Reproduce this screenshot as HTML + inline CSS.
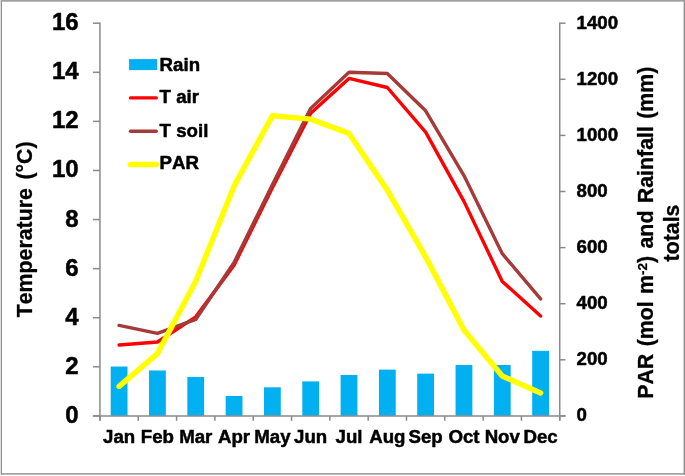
<!DOCTYPE html>
<html><head><meta charset="utf-8"><title>Chart</title>
<style>html,body{margin:0;padding:0;background:#fff}svg{display:block}text{font-family:"Liberation Sans",Arial,sans-serif;font-weight:bold;fill:#000;stroke:#000;stroke-width:0.5px;stroke-linejoin:round;font-kerning:none}text.t{stroke-width:0.3px}</style></head><body>
<svg width="685" height="476" viewBox="0 0 685 476">
<rect x="0" y="0" width="685" height="476" fill="#fff"/>
<rect x="0" y="1.4" width="1" height="473.2" fill="#dcdcdc"/><g fill="#8e8e8e"><rect x="1" y="0.6" width="1" height="474"/><rect x="683.6" y="0.6" width="1.4" height="474"/><rect x="1" y="473.2" width="684" height="1.4"/></g><rect x="0.6" y="0" width="684.4" height="1.7" fill="#a0a0a0"/>
<g fill="#00b0f0">
<rect x="110.71" y="366.53" width="16.8" height="49.37"/>
<rect x="149.03" y="370.46" width="16.8" height="45.44"/>
<rect x="187.34" y="376.91" width="16.8" height="38.99"/>
<rect x="225.66" y="395.98" width="16.8" height="19.92"/>
<rect x="263.98" y="387.29" width="16.8" height="28.61"/>
<rect x="302.29" y="381.40" width="16.8" height="34.50"/>
<rect x="340.61" y="374.95" width="16.8" height="40.95"/>
<rect x="378.93" y="369.62" width="16.8" height="46.28"/>
<rect x="417.24" y="373.63" width="16.8" height="42.27"/>
<rect x="455.56" y="364.96" width="16.8" height="50.94"/>
<rect x="493.88" y="364.96" width="16.8" height="50.94"/>
<rect x="532.19" y="350.82" width="16.8" height="65.08"/>
</g>
<g stroke="#8a8a8a" stroke-width="1.5" fill="none">
<path d="M99.95 22.45V420.80M92.90 415.90H565.50M559.75 22.45V420.80"/>
<path d="M92.90 415.90H99.95"/>
<path d="M92.90 366.81H99.95"/>
<path d="M92.90 317.72H99.95"/>
<path d="M92.90 268.64H99.95"/>
<path d="M92.90 219.55H99.95"/>
<path d="M92.90 170.46H99.95"/>
<path d="M92.90 121.38H99.95"/>
<path d="M92.90 72.29H99.95"/>
<path d="M92.90 23.20H99.95"/>
<path d="M559.75 415.90h5.75"/>
<path d="M559.75 359.80h5.75"/>
<path d="M559.75 303.70h5.75"/>
<path d="M559.75 247.60h5.75"/>
<path d="M559.75 191.50h5.75"/>
<path d="M559.75 135.40h5.75"/>
<path d="M559.75 79.30h5.75"/>
<path d="M559.75 23.20h5.75"/>
<path d="M99.95 415.90v4.9"/>
<path d="M138.27 415.90v4.9"/>
<path d="M176.58 415.90v4.9"/>
<path d="M214.90 415.90v4.9"/>
<path d="M253.22 415.90v4.9"/>
<path d="M291.53 415.90v4.9"/>
<path d="M329.85 415.90v4.9"/>
<path d="M368.17 415.90v4.9"/>
<path d="M406.48 415.90v4.9"/>
<path d="M444.80 415.90v4.9"/>
<path d="M483.12 415.90v4.9"/>
<path d="M521.43 415.90v4.9"/>
<path d="M559.75 415.90v4.9"/>
</g>
<polyline points="119.11,345.04 157.43,342.02 195.74,316.87 234.06,265.20 272.38,187.64 310.69,113.28 349.01,78.42 387.32,87.50 425.64,132.17 463.96,201.39 502.28,281.40 540.59,316.01" fill="none" stroke="#ff0000" stroke-width="3.4" stroke-linecap="round" stroke-linejoin="round"/>
<polyline points="119.11,325.46 157.43,333.43 195.74,319.44 234.06,262.50 272.38,184.70 310.69,108.37 349.01,72.29 387.32,73.51 425.64,110.82 463.96,175.62 502.28,253.67 540.59,298.83" fill="none" stroke="#a53a38" stroke-width="3.4" stroke-linecap="round" stroke-linejoin="round"/>
<polyline points="119.11,386.45 157.43,353.63 195.74,281.26 234.06,186.17 272.38,115.76 310.69,119.13 349.01,133.44 387.32,190.10 425.64,256.86 463.96,330.07 502.28,376.07 540.59,392.90" fill="none" stroke="#ffff00" stroke-width="5.5" stroke-linecap="round" stroke-linejoin="round"/>
<g font-size="24px" text-anchor="end">
<text x="78.7" y="422.90">0</text>
<text x="78.7" y="373.81">2</text>
<text x="78.7" y="324.72">4</text>
<text x="78.7" y="275.64">6</text>
<text x="78.7" y="226.55">8</text>
<text x="78.7" y="177.46">10</text>
<text x="78.7" y="128.38">12</text>
<text x="78.7" y="79.29">14</text>
<text x="78.7" y="30.20">16</text>
</g>
<g font-size="18.67px" text-anchor="start">
<text x="576.5" y="421.30">0</text>
<text x="576.5" y="365.20">200</text>
<text x="576.5" y="309.10">400</text>
<text x="576.5" y="253.00">600</text>
<text x="576.5" y="196.90">800</text>
<text x="576.5" y="140.80">1000</text>
<text x="576.5" y="84.70">1200</text>
<text x="576.5" y="28.60">1400</text>
</g>
<g font-size="18.67px" text-anchor="middle">
<text x="119.11" y="443.2">Jan</text>
<text x="157.43" y="443.2">Feb</text>
<text x="195.74" y="443.2">Mar</text>
<text x="234.06" y="443.2">Apr</text>
<text x="272.38" y="443.2">May</text>
<text x="310.69" y="443.2">Jun</text>
<text x="349.01" y="443.2">Jul</text>
<text x="387.32" y="443.2">Aug</text>
<text x="425.64" y="443.2">Sep</text>
<text x="463.96" y="443.2">Oct</text>
<text x="502.28" y="443.2">Nov</text>
<text x="540.59" y="443.2">Dec</text>
</g>
<rect x="129.1" y="59.1" width="28" height="11" fill="#00b0f0"/>
<path d="M130.5 97.9H156.3" stroke="#ff0000" stroke-width="3.4" stroke-linecap="round"/>
<path d="M130.5 131.2H156.3" stroke="#a53a38" stroke-width="3.4" stroke-linecap="round"/>
<path d="M130.3 164.4H156.3" stroke="#ffff00" stroke-width="5.5" stroke-linecap="round"/>
<g font-size="18.67px"><text x="159.6" y="71.0">Rain</text><text x="159.6" y="102.8">T air</text><text x="159.6" y="136.7">T soil</text><text x="159.6" y="169.3">PAR</text></g>
<text class="t" font-size="21.33px" text-anchor="middle" word-spacing="2.6" transform="translate(31.8 229.35) rotate(-90)">Temperature (°C)</text>
<text class="t" font-size="21.33px" text-anchor="middle" word-spacing="1.45" transform="translate(652.6 232.7) rotate(-90)">PAR (mol m<tspan font-size="13.5px" dy="-5.9">-2</tspan><tspan dy="5.9">) and Rainfall (mm)</tspan></text>
<text class="t" font-size="21.33px" text-anchor="middle" transform="translate(679 233) rotate(-90)">totals</text>
</svg></body></html>
